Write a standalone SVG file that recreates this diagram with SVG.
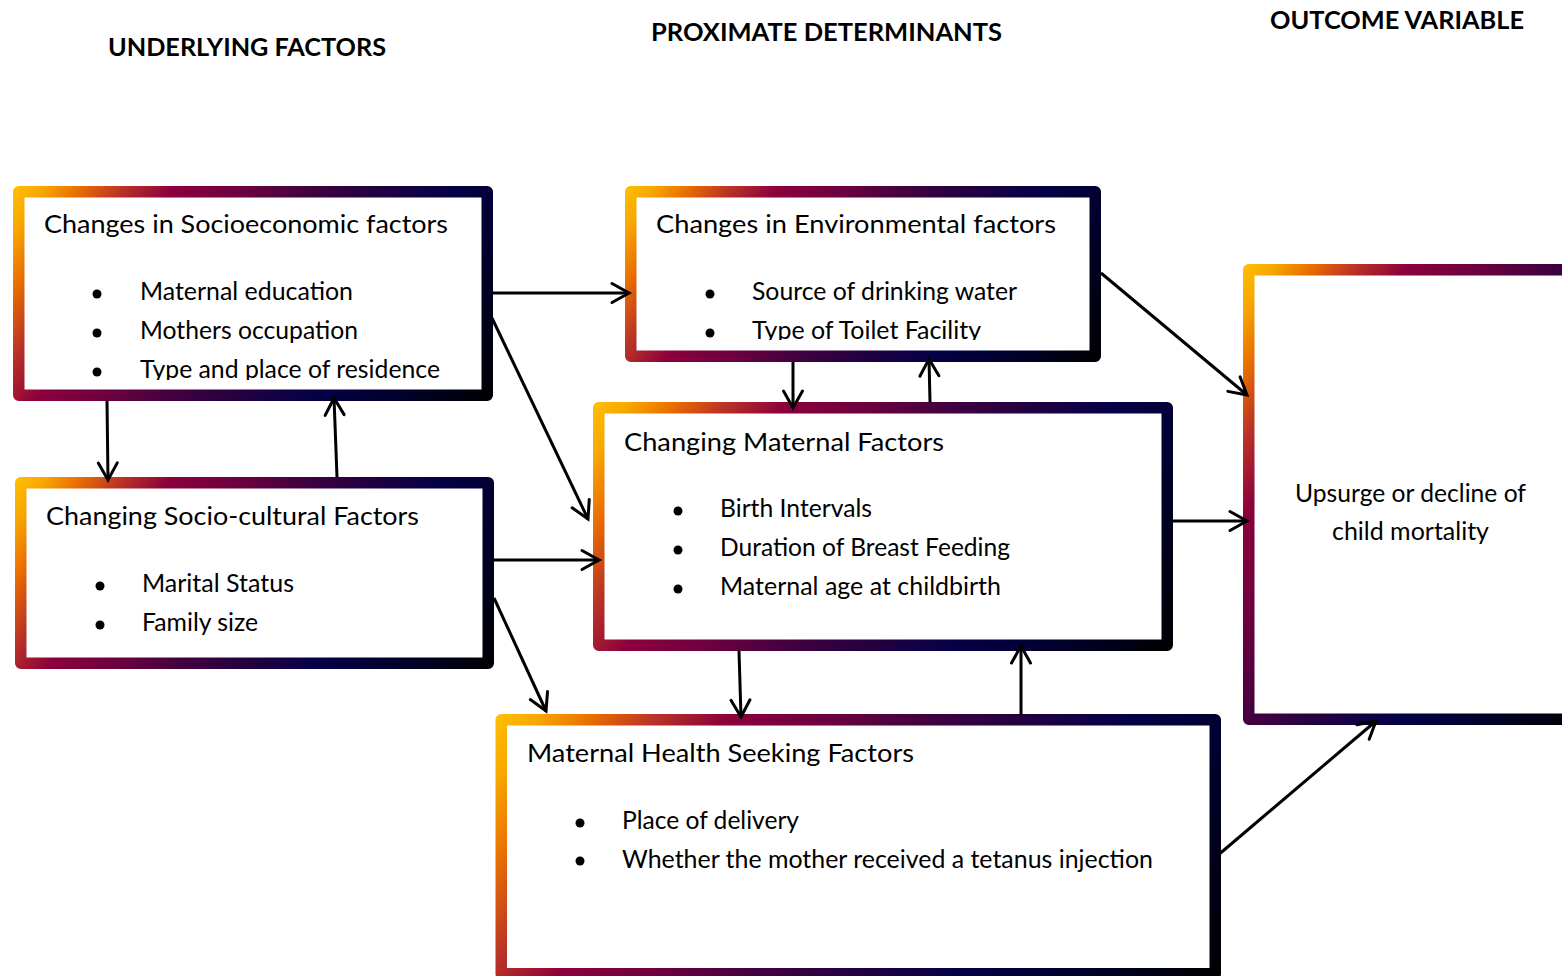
<svg xmlns="http://www.w3.org/2000/svg" xmlns:xlink="http://www.w3.org/1999/xlink" width="1562" height="976" viewBox="0 0 1562 976">
<style>
.box{fill:#ffffff;stroke-width:11.5;stroke-linejoin:round}
.t{font-family:Lato,"Liberation Sans",sans-serif;font-size:25px;fill:#000}
.h{font-family:Lato,"Liberation Sans",sans-serif;font-size:24px;font-weight:bold;fill:#000}
.bul{fill:#000}
.con{stroke:#000;stroke-width:3;fill:none;marker-end:url(#arr)}
</style>
<defs>
<linearGradient id="base">
<stop offset="0" stop-color="#FFC000"/>
<stop offset="0.05" stop-color="#F8A800"/>
<stop offset="0.11" stop-color="#EA6E00"/>
<stop offset="0.18" stop-color="#BA3326"/>
<stop offset="0.26" stop-color="#8C003C"/>
<stop offset="0.38" stop-color="#6A003F"/>
<stop offset="0.48" stop-color="#420040"/>
<stop offset="0.59" stop-color="#220040"/>
<stop offset="0.70" stop-color="#060048"/>
<stop offset="0.85" stop-color="#00002A"/>
<stop offset="1" stop-color="#000000"/>
</linearGradient>
<linearGradient id="g1" href="#base" xlink:href="#base" gradientUnits="userSpaceOnUse" x1="13" y1="186" x2="448.7" y2="469.2"/>
<linearGradient id="g2" href="#base" xlink:href="#base" gradientUnits="userSpaceOnUse" x1="625" y1="186" x2="1040" y2="455.8"/>
<linearGradient id="g3" href="#base" xlink:href="#base" gradientUnits="userSpaceOnUse" x1="593" y1="402" x2="1114.5" y2="741"/>
<linearGradient id="g4" href="#base" xlink:href="#base" gradientUnits="userSpaceOnUse" x1="15" y1="477" x2="439.5" y2="752.9"/>
<linearGradient id="g5" href="#base" xlink:href="#base" gradientUnits="userSpaceOnUse" x1="495" y1="714" x2="1126.9" y2="1124.7"/>
<linearGradient id="g6" href="#base" xlink:href="#base" gradientUnits="userSpaceOnUse" x1="1243" y1="264" x2="1689.9" y2="554.5"/>
<clipPath id="clip1"><rect x="25" y="197" width="456" height="183"/></clipPath>
<clipPath id="clip2"><rect x="637" y="197" width="452" height="143"/></clipPath>
<marker id="arr" markerUnits="userSpaceOnUse" markerWidth="30" markerHeight="30" refX="22" refY="12" orient="auto" overflow="visible">
<path d="M5,2.5 L22,12 L5,21.5" fill="none" stroke="#000" stroke-width="3" stroke-linecap="round"/>
</marker>
</defs>
<rect width="1562" height="976" fill="#ffffff"/>

<g id="headers">
<text class="h" x="108" y="56" textLength="278" lengthAdjust="spacingAndGlyphs">UNDERLYING FACTORS</text>
<text class="h" x="651" y="41" textLength="351" lengthAdjust="spacingAndGlyphs">PROXIMATE DETERMINANTS</text>
<text class="h" x="1270" y="29" textLength="254" lengthAdjust="spacingAndGlyphs">OUTCOME VARIABLE</text>
</g>

<g id="socioeconomic">
<rect class="box" x="18.75" y="191.75" width="468.5" height="203.5" stroke="url(#g1)"/>
<g clip-path="url(#clip1)">
<text class="t" x="44" y="233" textLength="404" lengthAdjust="spacingAndGlyphs">Changes in Socioeconomic factors</text>
<circle class="bul" cx="97" cy="294" r="4.5"/>
<text class="t" x="140" y="300" textLength="213" lengthAdjust="spacingAndGlyphs">Maternal education</text>
<circle class="bul" cx="97" cy="333" r="4.5"/>
<text class="t" x="140" y="339" textLength="218" lengthAdjust="spacingAndGlyphs">Mothers occupation</text>
<circle class="bul" cx="97" cy="372" r="4.5"/>
<text class="t" x="140" y="378" textLength="300" lengthAdjust="spacingAndGlyphs">Type and place of residence</text>
</g>
</g>

<g id="environmental">
<rect class="box" x="630.75" y="191.75" width="464.5" height="164.5" stroke="url(#g2)"/>
<g clip-path="url(#clip2)">
<text class="t" x="656" y="233" textLength="400" lengthAdjust="spacingAndGlyphs">Changes in Environmental factors</text>
<circle class="bul" cx="710" cy="294" r="4.5"/>
<text class="t" x="752" y="300" textLength="265" lengthAdjust="spacingAndGlyphs">Source of drinking water</text>
<circle class="bul" cx="710" cy="333" r="4.5"/>
<text class="t" x="752" y="339" textLength="229" lengthAdjust="spacingAndGlyphs">Type of Toilet Facility</text>
</g>
</g>

<g id="maternal">
<rect class="box" x="598.75" y="407.75" width="568.5" height="237.5" stroke="url(#g3)"/>
<text class="t" x="624" y="451" textLength="320" lengthAdjust="spacingAndGlyphs">Changing Maternal Factors</text>
<circle class="bul" cx="678" cy="511" r="4.5"/>
<text class="t" x="720" y="517" textLength="152" lengthAdjust="spacingAndGlyphs">Birth Intervals</text>
<circle class="bul" cx="678" cy="550" r="4.5"/>
<text class="t" x="720" y="556" textLength="290" lengthAdjust="spacingAndGlyphs">Duration of Breast Feeding</text>
<circle class="bul" cx="678" cy="589" r="4.5"/>
<text class="t" x="720" y="595" textLength="281" lengthAdjust="spacingAndGlyphs">Maternal age at childbirth</text>
</g>

<g id="sociocultural">
<rect class="box" x="20.75" y="482.75" width="467.5" height="180.5" stroke="url(#g4)"/>
<text class="t" x="46" y="525" textLength="373" lengthAdjust="spacingAndGlyphs">Changing Socio-cultural Factors</text>
<circle class="bul" cx="100" cy="586" r="4.5"/>
<text class="t" x="142" y="592" textLength="152" lengthAdjust="spacingAndGlyphs">Marital Status</text>
<circle class="bul" cx="100" cy="625" r="4.5"/>
<text class="t" x="142" y="631" textLength="116" lengthAdjust="spacingAndGlyphs">Family size</text>
</g>

<g id="healthseeking">
<rect class="box" x="501.25" y="719.75" width="714" height="254" stroke="url(#g5)"/>
<text class="t" x="527" y="762" textLength="387" lengthAdjust="spacingAndGlyphs">Maternal Health Seeking Factors</text>
<circle class="bul" cx="580" cy="823" r="4.5"/>
<text class="t" x="622" y="829" textLength="177" lengthAdjust="spacingAndGlyphs">Place of delivery</text>
<circle class="bul" cx="580" cy="861" r="4.5"/>
<text class="t" x="622" y="868" textLength="531" lengthAdjust="spacingAndGlyphs">Whether the mother received a tetanus injection</text>
</g>

<g id="outcome">
<rect class="box" x="1248.75" y="269.75" width="324.5" height="449.5" stroke="url(#g6)"/>
<text class="t" x="1410.5" y="502" text-anchor="middle" textLength="231" lengthAdjust="spacingAndGlyphs">Upsurge or decline of</text>
<text class="t" x="1410.5" y="540" text-anchor="middle" textLength="157" lengthAdjust="spacingAndGlyphs">child mortality</text>
</g>

<g id="connectors">
<line class="con" x1="493" y1="293" x2="629" y2="293"/>
<line class="con" x1="492" y1="318" x2="588" y2="519"/>
<line class="con" x1="107" y1="401" x2="108" y2="480"/>
<line class="con" x1="337" y1="477" x2="334" y2="398"/>
<line class="con" x1="494" y1="560" x2="599" y2="560"/>
<line class="con" x1="494" y1="598" x2="546" y2="711"/>
<line class="con" x1="793" y1="362" x2="793" y2="408"/>
<line class="con" x1="930" y1="402" x2="929" y2="359"/>
<line class="con" x1="1101" y1="273" x2="1247" y2="395"/>
<line class="con" x1="1173" y1="521" x2="1247" y2="521"/>
<line class="con" x1="739" y1="651" x2="741" y2="717"/>
<line class="con" x1="1021" y1="714" x2="1021" y2="646"/>
<line class="con" x1="1217" y1="856" x2="1376" y2="721"/>
</g>
</svg>
